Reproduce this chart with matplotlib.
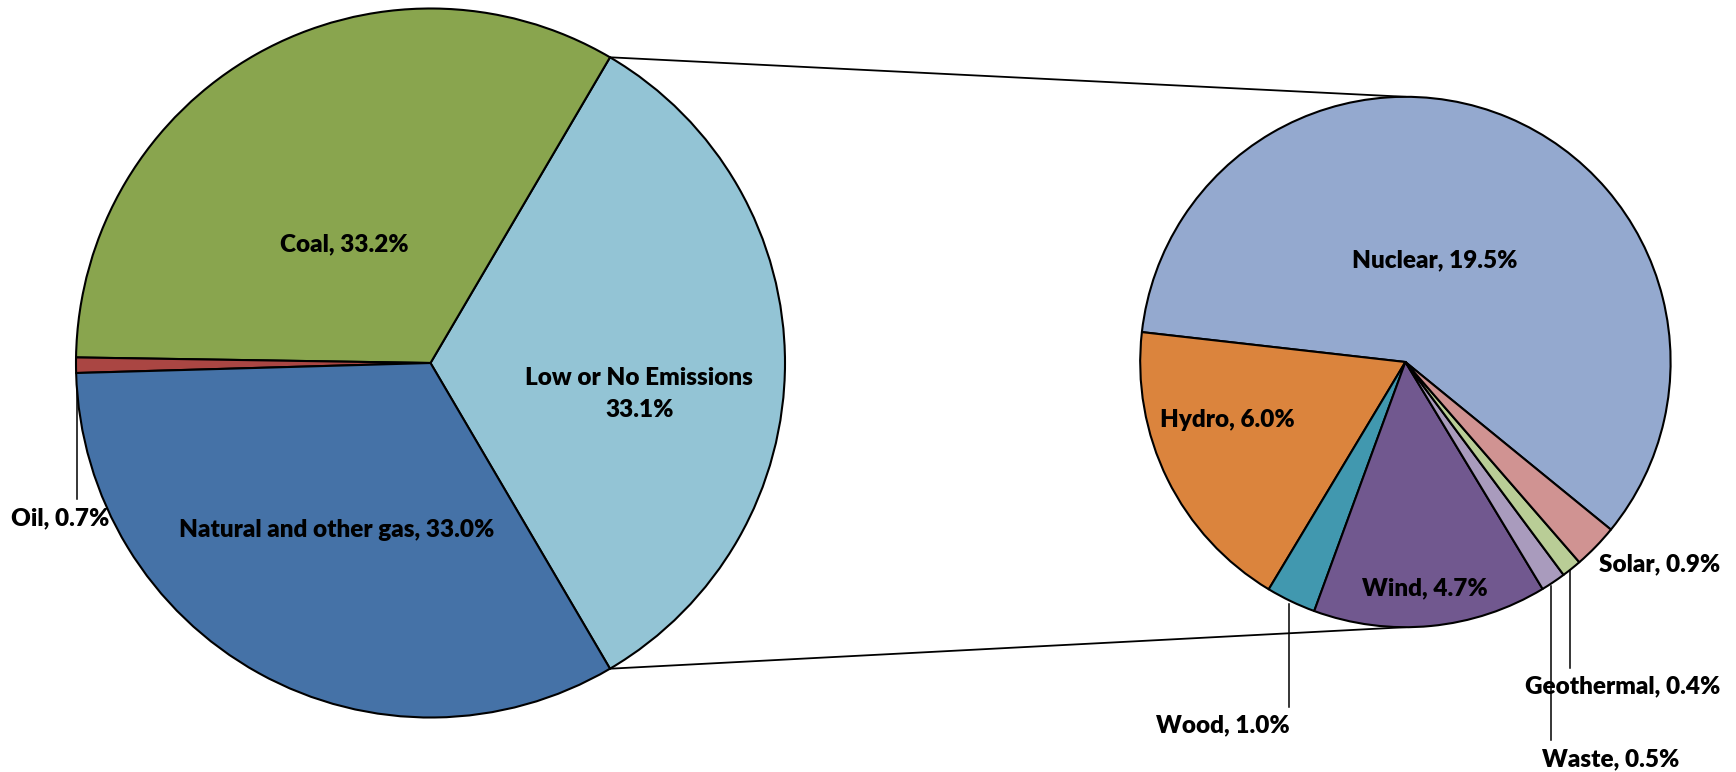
import numpy as np
import matplotlib
matplotlib.use("Agg")
import matplotlib.pyplot as plt

# Electricity generation by source (% of total)
main_labels = ["Low or No Emissions", "Coal", "Oil", "Natural and other gas"]
main_values = [33.1, 33.2, 0.7, 33.0]
main_colors = ["#93C4D5", "#89A54E", "#AA4643", "#4572A7"]

# Breakdown of the low/no-emission share
sub_labels = ["Nuclear", "Hydro", "Wood", "Wind", "Waste", "Geothermal", "Solar"]
sub_values = [19.5, 6.0, 1.0, 4.7, 0.5, 0.4, 0.9]
sub_colors = ["#94A9CF", "#DB843D", "#4198AF", "#71588F", "#A99BBD", "#B9CD96", "#D09392"]

W, H = 1736, 772
fig = plt.figure(figsize=(W / 100, H / 100), dpi=100)
ax = fig.add_axes([0, 0, 1, 1])

def P(x, y):
    """pixel position (y measured from top) -> data coordinates"""
    return x, H - y

c1 = P(430.5, 363.0)
r1 = 354.5
c2 = P(1405.4, 362.0)
r2 = 265.2

edge = dict(edgecolor="black", linewidth=1.5, joinstyle="round")

start1 = -main_values[0] / sum(main_values) * 360 / 2
ax.pie(main_values, colors=main_colors, center=c1, radius=r1,
       startangle=start1, counterclock=True, wedgeprops=edge)
ax.pie(sub_values, colors=sub_colors, center=c2, radius=r2,
       startangle=-39.2, counterclock=True, wedgeprops=edge)

# connector lines from the low-emission slice to the secondary pie
a = np.deg2rad(-start1)
ax.plot([c1[0] + r1 * np.cos(a), c2[0]], [c1[1] + r1 * np.sin(a), c2[1] + r2],
        color="black", lw=1.3, zorder=0)
ax.plot([c1[0] + r1 * np.cos(a), c2[0]], [c1[1] - r1 * np.sin(a), c2[1] - r2],
        color="black", lw=1.3, zorder=0)

font = dict(family=["Lato", "DejaVu Sans"], fontweight="heavy", fontsize=17.5,
            color="black", ha="center", va="center")

def lab(names, vals, i):
    return f"{names[i]}, {vals[i]:.1f}%"

# main pie labels
ax.text(*P(344, 244.5), lab(main_labels, main_values, 1), **font)
ax.text(*P(639.4, 394.0), f"{main_labels[0]}\n{main_values[0]:.1f}%",
        linespacing=1.6, **font)
ax.text(*P(336.6, 529.6), lab(main_labels, main_values, 3), **font)
ax.text(*P(60.4, 518.8), lab(main_labels, main_values, 2), **font)

# secondary pie labels
ax.text(*P(1434.3, 260.4), lab(sub_labels, sub_values, 0), **font)
ax.text(*P(1226.9, 419.8), lab(sub_labels, sub_values, 1), **font)
ax.text(*P(1424.5, 588.5), lab(sub_labels, sub_values, 3), **font)
ax.text(*P(1660.0, 564.0), lab(sub_labels, sub_values, 6), **font)
ax.text(*P(1223.0, 725.0), lab(sub_labels, sub_values, 2), **font)
ax.text(*P(1623.0, 686.0), lab(sub_labels, sub_values, 5), **font)
ax.text(*P(1611.0, 759.0), lab(sub_labels, sub_values, 4), **font)

# leader lines for the thin slices
leaders = [((76.7, 373.8), (76.7, 499.0)),
           ((1289.0, 604.0), (1289.0, 706.5)),
           ((1551.0, 585.5), (1551.0, 740.0)),
           ((1570.0, 570.0), (1570.0, 668.0))]
for (x0, y0), (x1, y1) in leaders:
    ax.plot([x0, x1], [H - y0, H - y1], color="black", lw=1.1, zorder=0)

ax.set_xlim(0, W)
ax.set_ylim(0, H)
ax.set_aspect("auto")
ax.axis("off")

fig.savefig("out.png", dpi=100, facecolor="white")
